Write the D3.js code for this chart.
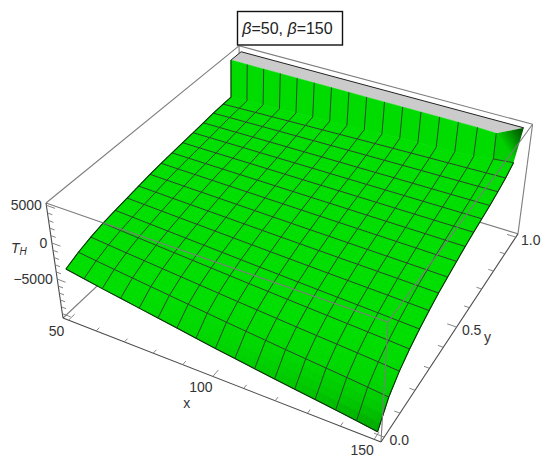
<!DOCTYPE html>
<html>
<head>
<meta charset="utf-8">
<script src="https://cdnjs.cloudflare.com/ajax/libs/d3/7.8.5/d3.min.js"></script>
<style>
  body { margin: 0; background: #fff; }
  text { font-family: "Liberation Sans", Arial, sans-serif; fill: #333; }
</style>
</head>
<body>
<svg id="chart" width="550" height="464"></svg>
<script>
// values
const xMesh = [50, 56.25, 62.5, 68.75, 75, 81.25, 87.5, 93.75, 100, 106.25, 112.5, 118.75, 125, 131.25, 137.5, 143.75, 150];
const yMesh = [0, 0.0625, 0.125, 0.1875, 0.25, 0.3125, 0.375, 0.4375, 0.5, 0.5625, 0.625, 0.6875, 0.75, 0.8125, 0.875];
const surfaceT = [
  [-3820, -4270, -4725, -5140, -5560, -5980, -6400, -6820, -7240, -7625, -8010, -8400, -8755, -9110, -9465, -9850, -10270],
  [-3120, -3425, -3730, -4010, -4290, -4575, -4855, -5140, -5420, -5680, -5940, -6200, -6440, -6680, -6920, -7180, -7460],
  [-2595, -2825, -3055, -3265, -3480, -3690, -3905, -4115, -4330, -4525, -4720, -4915, -5095, -5275, -5455, -5650, -5865],
  [-2200, -2380, -2555, -2725, -2890, -3055, -3220, -3385, -3550, -3705, -3860, -4010, -4150, -4290, -4430, -4585, -4750],
  [-1910, -2045, -2185, -2310, -2440, -2565, -2695, -2820, -2950, -3065, -3185, -3300, -3410, -3515, -3625, -3745, -3870],
  [-1670, -1775, -1880, -1975, -2070, -2165, -2265, -2360, -2455, -2545, -2635, -2725, -2805, -2890, -2970, -3060, -3155],
  [-1430, -1505, -1580, -1650, -1725, -1795, -1865, -1935, -2005, -2070, -2135, -2200, -2260, -2320, -2380, -2445, -2515],
  [-1190, -1250, -1310, -1365, -1420, -1475, -1530, -1585, -1640, -1690, -1740, -1790, -1835, -1885, -1930, -1980, -2035],
  [-1015, -1055, -1090, -1125, -1160, -1195, -1235, -1270, -1305, -1335, -1370, -1400, -1430, -1460, -1490, -1525, -1560],
  [-890, -905, -925, -940, -955, -970, -985, -1000, -1015, -1030, -1045, -1060, -1075, -1085, -1100, -1115, -1130],
  [-775, -775, -775, -775, -770, -770, -770, -770, -770, -765, -765, -765, -765, -765, -760, -760, -760],
  [-650, -635, -620, -605, -595, -580, -565, -550, -540, -525, -515, -500, -490, -480, -465, -455, -440],
  [-505, -480, -450, -425, -400, -375, -350, -325, -300, -280, -255, -230, -210, -190, -170, -145, -120],
  [-360, -310, -265, -220, -175, -130, -85, -40, 5, 45, 85, 125, 165, 200, 240, 280, 325],
  [-280, -205, -130, -60, 10, 80, 150, 220, 290, 355, 420, 485, 545, 605, 665, 730, 800]
];
// foot of the wall close to y = 1 and the clipped top of it
const footY = [0.926, 0.926, 0.926, 0.926, 0.926, 0.926, 0.926, 0.926, 0.926, 0.926, 0.926, 0.926, 0.926, 0.926, 0.926, 0.93, 0.9375];
const footT = [-250, -150, -50, 50, 150, 250, 350, 450, 550, 650, 750, 850, 950, 1050, 1150, 1450, 1520];
const topY = [0.934, 0.934, 0.934, 0.934, 0.934, 0.934, 0.934, 0.934, 0.934, 0.934, 0.934, 0.934, 0.934, 0.934, 0.934, 0.93, 1];
const clipT = 5000;
const xTicks = [50, 100, 150];
const yTicks = [0, 0.5, 1];
const zTicks = [-5000, 0, 5000];

const svg = d3.select('#chart');

const uScale = d3.scaleLinear().domain([48, 152]).range([0, 1]);
const vScale = d3.scaleLinear().domain([-0.02, 1.02]).range([0, 1]);
const wScale = d3.scaleLinear().domain([-10650, 5300]).range([0, 1]);

// perspective of the box, fitted on its corners
function projectUnit(u, v, w) {
  const d = 1 - 0.10904 * u + 0.2073 * v - 0.06794 * w;
  return [
    (276.46 * u + 229.4 * v - 20.13 * w + 63) / d,
    (75.81 * u - 137 * v - 128.79 * w + 318) / d
  ];
}
const project = (x, y, z) => projectUnit(uScale(x), vScale(y), wScale(z));

const line = d3.line();
const closed = pts => line(pts) + 'Z';

const shade = d3.scaleLinear()
  .domain([-10300, -8500, -6500, -4500])
  .range(['#00a800', '#00c800', '#00d800', '#00de00'])
  .clamp(true);

const BOX_GRAY = '#7d7d7d';
const AXIS_DARK = '#4a4a4a';
const MESH = '#2c462c';

function boxEdge(a, b, color, width) {
  svg.append('path')
    .attr('d', line([projectUnit(...a), projectUnit(...b)]))
    .attr('fill', 'none')
    .attr('stroke', color || BOX_GRAY)
    .attr('stroke-width', width || 1.1);
}

// back edges of the box, under the surface
boxEdge([0, 0, 0], [0, 1, 0]);
boxEdge([0, 1, 0], [1, 1, 0]);
boxEdge([0, 1, 0], [0, 1, 1]);
boxEdge([0, 0, 1], [0, 1, 1]);
boxEdge([0, 1, 1], [1, 1, 1]);
boxEdge([1, 1, 0], [1, 1, 1]);

// clipped top, grey
const plateFront = xMesh.map((x, i) => project(x, topY[i], clipT));
const plateBack = xMesh.map(x => project(x, 1, clipT));
svg.append('path')
  .attr('d', closed(plateFront.concat(plateBack.slice().reverse())))
  .attr('fill', '#cbcbcb')
  .attr('stroke', 'none');
svg.append('path')
  .attr('d', line([plateFront[0], plateBack[0], plateBack[plateBack.length - 1], plateFront[plateFront.length - 1]]))
  .attr('fill', 'none')
  .attr('stroke', '#222')
  .attr('stroke-width', 1);

// the last corner of the wall goes dark to the right
const defs = svg.append('defs');
const cornerA = plateFront[15], cornerB = plateFront[16];
const cornerGrad = defs.append('linearGradient')
  .attr('id', 'cornerGrad')
  .attr('gradientUnits', 'userSpaceOnUse')
  .attr('x1', cornerA[0]).attr('y1', cornerA[1] + 20)
  .attr('x2', cornerB[0]).attr('y2', cornerB[1] + 8);
cornerGrad.append('stop').attr('offset', 0.35).attr('stop-color', '#00d000');
cornerGrad.append('stop').attr('offset', 1).attr('stop-color', '#005c00');

const wall = d3.range(16).map(i => ({
  pts: [
    project(xMesh[i], topY[i], clipT), project(xMesh[i + 1], topY[i + 1], clipT),
    project(xMesh[i + 1], footY[i + 1], footT[i + 1]), project(xMesh[i], footY[i], footT[i])
  ],
  last: i === 15
}));
svg.append('g').selectAll('path').data(wall).enter().append('path')
  .attr('d', d => closed(d.pts))
  .attr('fill', d => d.last ? 'url(#cornerGrad)' : '#00dc00')
  .attr('stroke', d => d.last ? 'none' : '#00dc00')
  .attr('stroke-width', 0.5);

// surface rows from the back: corners of every mesh cell
const rowPts = i => k => k === yMesh.length
  ? { x: xMesh[i], y: footY[i], t: footT[i] }
  : { x: xMesh[i], y: yMesh[k], t: surfaceT[k][i] };

// each cell is split for the fill only, so the shade runs smoothly
const SUB = 4;
const cells = [];
for (let k = yMesh.length - 1; k >= 0; k--) {
  for (let i = 0; i < 16; i++) {
    const a = rowPts(i)(k + 1), b = rowPts(i + 1)(k + 1), c = rowPts(i + 1)(k), e = rowPts(i)(k);
    const at = (s, r) => {
      const mix = f => (1 - r) * ((1 - s) * f(e) + s * f(c)) + r * ((1 - s) * f(a) + s * f(b));
      return { x: mix(d => d.x), y: mix(d => d.y), t: mix(d => d.t) };
    };
    for (let m = SUB - 1; m >= 0; m--) {
      for (let n = 0; n < SUB; n++) {
        const q = [at(n / SUB, (m + 1) / SUB), at((n + 1) / SUB, (m + 1) / SUB), at((n + 1) / SUB, m / SUB), at(n / SUB, m / SUB)];
        cells.push({ pts: q.map(p => project(p.x, p.y, p.t)), t: d3.mean(q, p => p.t) });
      }
    }
  }
}
svg.append('g').selectAll('path').data(cells).enter().append('path')
  .attr('d', d => closed(d.pts))
  .attr('fill', d => shade(d.t))
  .attr('stroke', d => shade(d.t))
  .attr('stroke-width', 0.8);

// mesh lines
const meshLines = [];
yMesh.forEach((y, k) => {
  meshLines.push({ pts: xMesh.map((x, i) => project(x, y, surfaceT[k][i])), edge: k === 0 });
});
meshLines.push({ pts: [project(xMesh[15], footY[15], footT[15]), project(xMesh[16], footY[16], footT[16])], edge: false });
xMesh.forEach((x, i) => {
  const pts = yMesh.map((y, k) => project(x, y, surfaceT[k][i]));
  pts.push(project(x, footY[i], footT[i]));
  if (i < 16) pts.push(project(x, topY[i], clipT));
  meshLines.push({ pts, edge: i === 0 || i === 16 });
});
svg.append('g').selectAll('path').data(meshLines).enter().append('path')
  .attr('d', d => line(d.pts))
  .attr('fill', 'none')
  .attr('stroke', d => d.edge ? '#0c2a0c' : MESH)
  .attr('stroke-width', d => d.edge ? 1.1 : 1);

// front edges of the box, over the surface
boxEdge([0, 0, 1], [1, 0, 1]);
boxEdge([1, 0, 1], [1, 1, 1]);
boxEdge([1, 0, 0], [1, 0, 1]);

// axes
boxEdge([0, 0, 0], [0, 0, 1], AXIS_DARK, 1.1);
boxEdge([0, 0, 0], [1, 0, 0], AXIS_DARK, 1.1);
boxEdge([1, 0, 0], [1, 1, 0], AXIS_DARK, 1.1);

function tick(from, to) {
  svg.append('path')
    .attr('d', line([from, to]))
    .attr('fill', 'none')
    .attr('stroke', '#777')
    .attr('stroke-width', 0.9);
}
const yBox = vScale.domain()[0], zBox = wScale.domain()[0], xBox = uScale.domain();
d3.range(50, 151, 10).forEach(x => {
  const len = x % 50 === 0 ? 0.03 : 0.016;
  tick(project(x, yBox, zBox), project(x, yBox + len, zBox));
});
d3.range(0, 11).forEach(n => {
  const len = n % 5 === 0 ? 3 : 1.7;
  tick(project(xBox[1], n / 10, zBox), project(xBox[1] - len, n / 10, zBox));
});
d3.range(-10000, 5001, 1000).forEach(z => {
  const len = z % 5000 === 0 ? 3 : 1.7;
  tick(project(xBox[0], yBox, z), project(xBox[0] + len, yBox, z));
});

// tick labels
const FONT = 14;
function label(pt, dx, dy, txt, anchor) {
  return svg.append('text')
    .attr('x', pt[0] + dx)
    .attr('y', pt[1] + dy)
    .attr('font-size', FONT)
    .attr('text-anchor', anchor || 'middle')
    .attr('dominant-baseline', 'central')
    .text(txt);
}
xTicks.forEach(x => label(project(x, yBox, zBox), -12, 10.5, x));
yTicks.forEach(y => label(project(xBox[1], y, zBox), 15, 2.5, d3.format('.1f')(y)));
zTicks.forEach(z => label(project(xBox[0], yBox, z), -4.5, 0, d3.format('d')(z).replace('-', '\u2212'), 'end'));

// axis titles
label(project(100, yBox, zBox), -26, 27, 'x');
label(project(xBox[1], 0.5, zBox), 31, 10, 'y');
const zTitle = label(project(xBox[0], yBox, 0), -33, 5, null);
zTitle.append('tspan').attr('font-style', 'italic').text('T');
zTitle.append('tspan').attr('font-style', 'italic').attr('font-size', 10).attr('dy', 3).text('H');

// title box
svg.append('rect')
  .attr('x', 237.5).attr('y', 11.5)
  .attr('width', 105).attr('height', 33.5)
  .attr('fill', '#fff')
  .attr('stroke', '#111')
  .attr('stroke-width', 1.4);
const title = svg.append('text')
  .attr('x', 287.5).attr('y', 28)
  .attr('text-anchor', 'middle')
  .attr('dominant-baseline', 'central')
  .attr('font-size', 16)
  .style('fill', '#222');
title.append('tspan').attr('font-style', 'italic').text('\u03B2');
title.append('tspan').text('=50, ');
title.append('tspan').attr('font-style', 'italic').text('\u03B2');
title.append('tspan').text('=150');
</script>
</body>
</html>
